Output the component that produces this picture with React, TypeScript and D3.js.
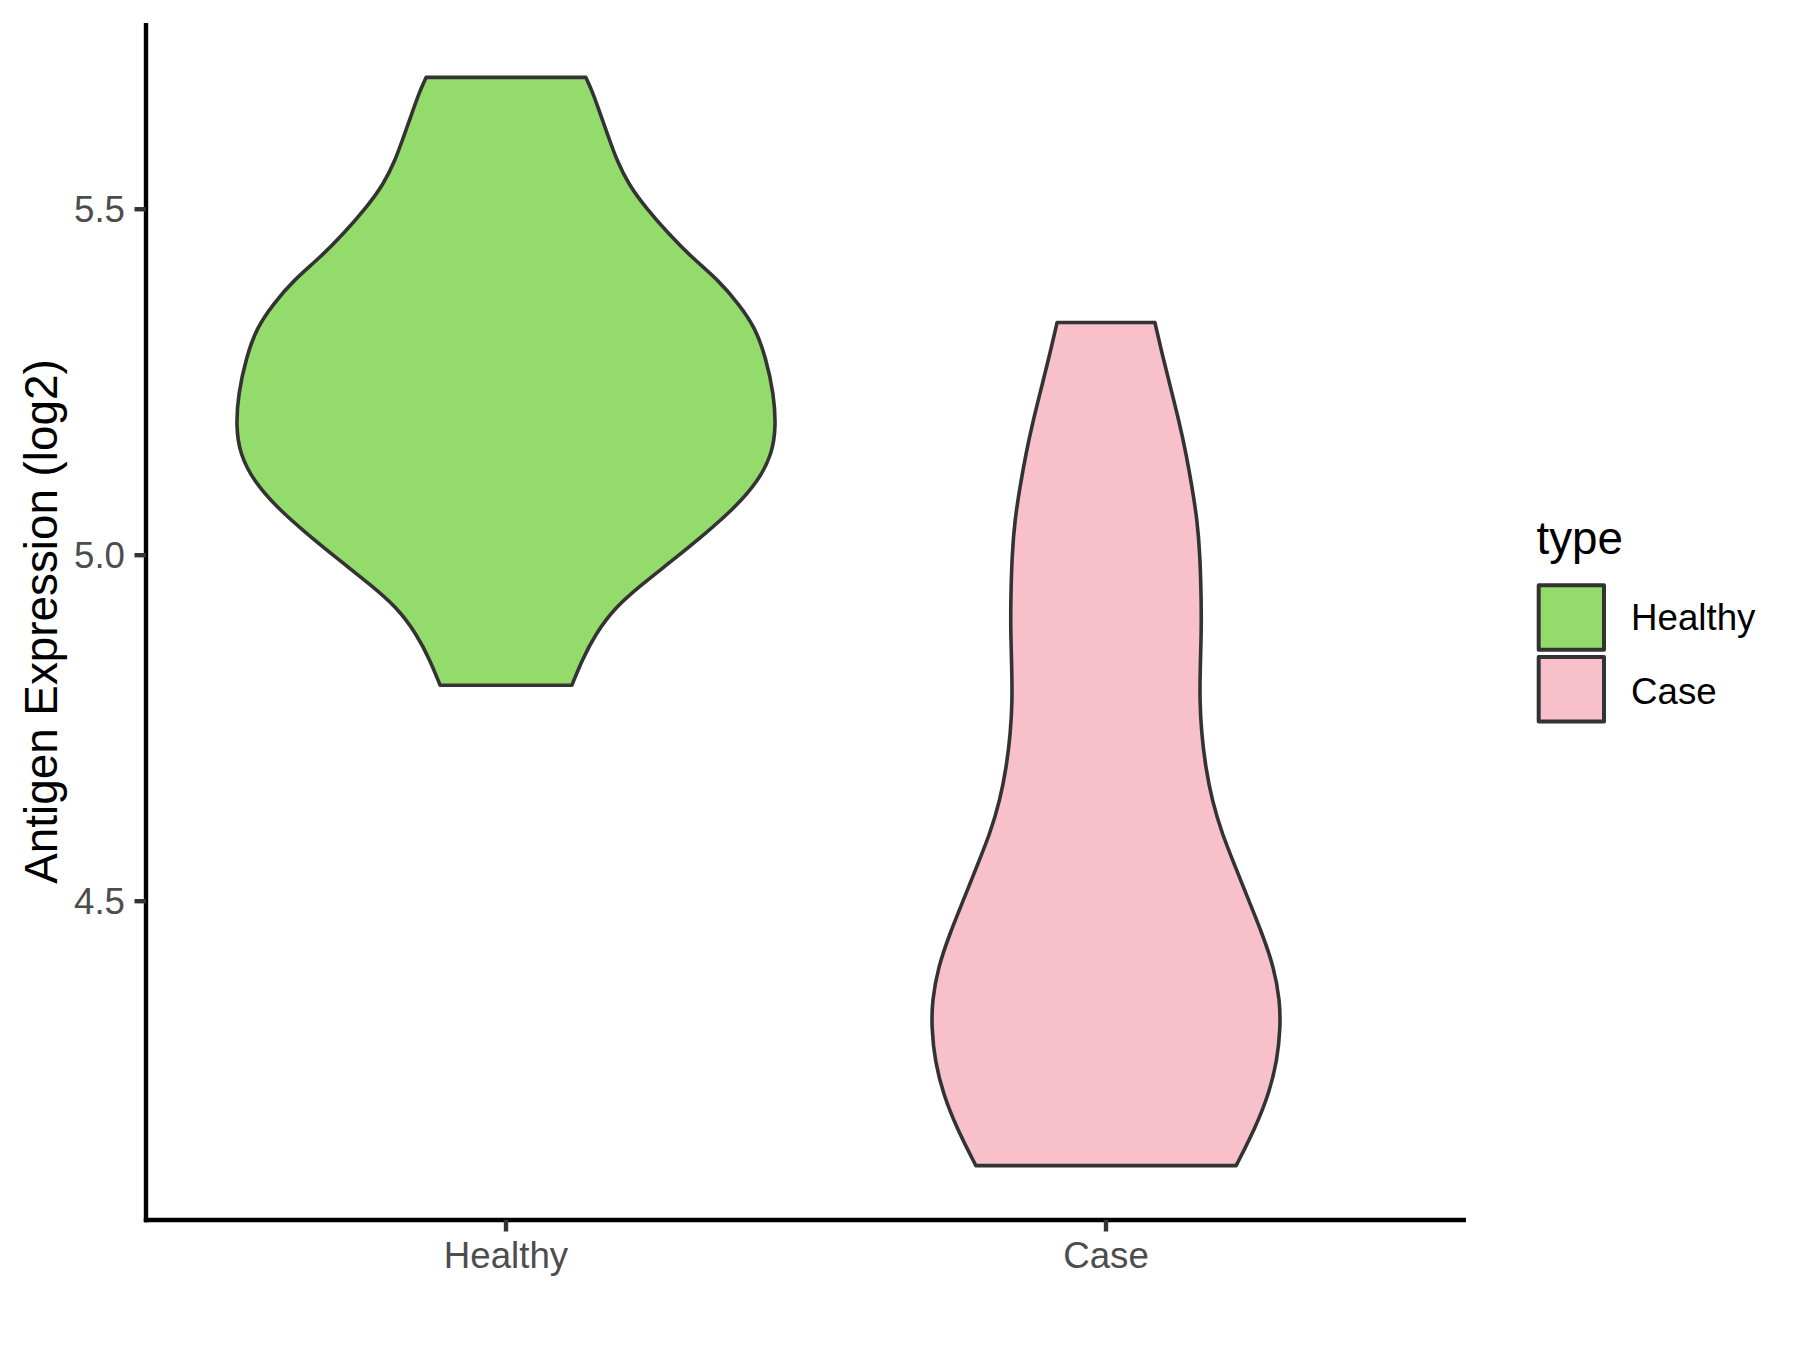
import React from "react";
import * as d3 from "d3";

const categories = ["Healthy", "Case"];
const fillColors = ["#93DB6B", "#F7C0CB"];

// Violin outline: expression value and relative half-width
const healthyValues = [5.6905, 5.671, 5.638, 5.604, 5.570, 5.536, 5.503, 5.464, 5.430, 5.397, 5.363, 5.329, 5.286, 5.233, 5.185, 5.146, 5.108, 5.069, 5.031, 4.992, 4.958, 4.925, 4.886, 4.848, 4.812];
const healthyWidths = [0.296, 0.319, 0.349, 0.380, 0.411, 0.454, 0.516, 0.603, 0.689, 0.788, 0.862, 0.923, 0.962, 0.992, 1.000, 0.985, 0.936, 0.849, 0.738, 0.615, 0.504, 0.405, 0.331, 0.281, 0.244];

const caseValues = [5.3364, 5.2908, 5.2425, 5.1944, 5.1462, 5.0980, 5.0499, 5.0017, 4.9342, 4.8861, 4.8379, 4.7897, 4.7416, 4.6934, 4.6453, 4.5971, 4.5489, 4.5007, 4.4526, 4.4044, 4.3562, 4.3177, 4.2695, 4.2214, 4.1732, 4.1179];
const caseWidths = [0.181, 0.208, 0.239, 0.270, 0.297, 0.319, 0.338, 0.348, 0.353, 0.353, 0.349, 0.347, 0.354, 0.369, 0.393, 0.430, 0.480, 0.529, 0.579, 0.622, 0.644, 0.646, 0.634, 0.603, 0.554, 0.482];

const yTicks = [4.5, 5.0, 5.5];
const yTickLabels = ["4.5", "5.0", "5.5"];

const yTitle = "Antigen Expression (log2)";
const legendTitle = "type";

const W = 1800;
const H = 1350;
const panel = { left: 146, right: 1466, top: 23, bottom: 1220 };
const FONT = "'Liberation Sans', Arial, Helvetica, sans-serif";

export default function App() {
  const series = [
    { name: categories[0], values: healthyValues, widths: healthyWidths, fill: fillColors[0] },
    { name: categories[1], values: caseValues, widths: caseWidths, fill: fillColors[1] },
  ];

  const allVals = [...healthyValues, ...caseValues];
  const vmin = d3.min(allVals) as number;
  const vmax = d3.max(allVals) as number;
  const pad = (vmax - vmin) * 0.05;

  const x = d3.scalePoint<string>().domain(categories).range([panel.left, panel.right]).padding(0.6);
  const step = x.step();
  const y = d3.scaleLinear().domain([vmin - pad, vmax + pad]).range([panel.bottom, panel.top]);

  const tickLen = 11.5;

  return (
    <svg
      width={W}
      height={H}
      viewBox={`0 0 ${W} ${H}`}
      style={{ position: "absolute", left: 0, top: 0, display: "block", background: "#fff" }}
    >
      <rect x={0} y={0} width={W} height={H} fill="#fff" />
      {series.map((s) => {
        const cx = x(s.name) as number;
        const pts = s.values.map((v, i) => ({ v, w: s.widths[i] }));
        const area = d3
          .area<{ v: number; w: number }>()
          .y((d) => y(d.v))
          .x0((d) => cx - d.w * 0.45 * step)
          .x1((d) => cx + d.w * 0.45 * step)
          .curve(d3.curveBasis);
        return (
          <path
            key={s.name}
            d={area(pts) || ""}
            fill={s.fill}
            stroke="#333333"
            strokeWidth={3.6}
            strokeLinejoin="round"
          />
        );
      })}

      {/* axes */}
      <line x1={panel.left} x2={panel.left} y1={panel.top} y2={panel.bottom + 2.2} stroke="#000" strokeWidth={4.4} />
      <line x1={panel.left - 2.2} x2={panel.right} y1={panel.bottom} y2={panel.bottom} stroke="#000" strokeWidth={4.4} />

      {yTicks.map((t, i) => (
        <g key={t}>
          <line x1={panel.left - tickLen} x2={panel.left} y1={y(t)} y2={y(t)} stroke="#333" strokeWidth={4.4} />
          <text
            x={panel.left - tickLen - 9.5}
            y={y(t)}
            dy="0.35em"
            textAnchor="end"
            fontFamily={FONT}
            fontSize={36.7}
            fill="#4D4D4D"
          >
            {yTickLabels[i]}
          </text>
        </g>
      ))}

      {categories.map((c) => (
        <g key={c}>
          <line x1={x(c)} x2={x(c)} y1={panel.bottom} y2={panel.bottom + tickLen} stroke="#333" strokeWidth={4.4} />
          <text
            x={x(c)}
            y={1268}
            textAnchor="middle"
            fontFamily={FONT}
            fontSize={36.7}
            fill="#4D4D4D"
          >
            {c}
          </text>
        </g>
      ))}

      <text
        transform={`translate(56.5, ${(panel.top + panel.bottom) / 2}) rotate(-90)`}
        textAnchor="middle"
        fontFamily={FONT}
        fontSize={45.8}
        fill="#000"
      >
        {yTitle}
      </text>

      {/* legend */}
      <text x={1536.5} y={554} fontFamily={FONT} fontSize={45.8} fill="#000">
        {legendTitle}
      </text>
      {series.map((s, i) => (
        <g key={s.name}>
          <rect
            x={1538.7}
            y={585.3 + i * 71.7}
            width={65.3}
            height={64.4}
            fill={s.fill}
            stroke="#333333"
            strokeWidth={4}
            strokeLinejoin="round"
          />
          <text x={1631} y={630 + i * 73.5} fontFamily={FONT} fontSize={36.7} fill="#000">
            {s.name}
          </text>
        </g>
      ))}
    </svg>
  );
}
